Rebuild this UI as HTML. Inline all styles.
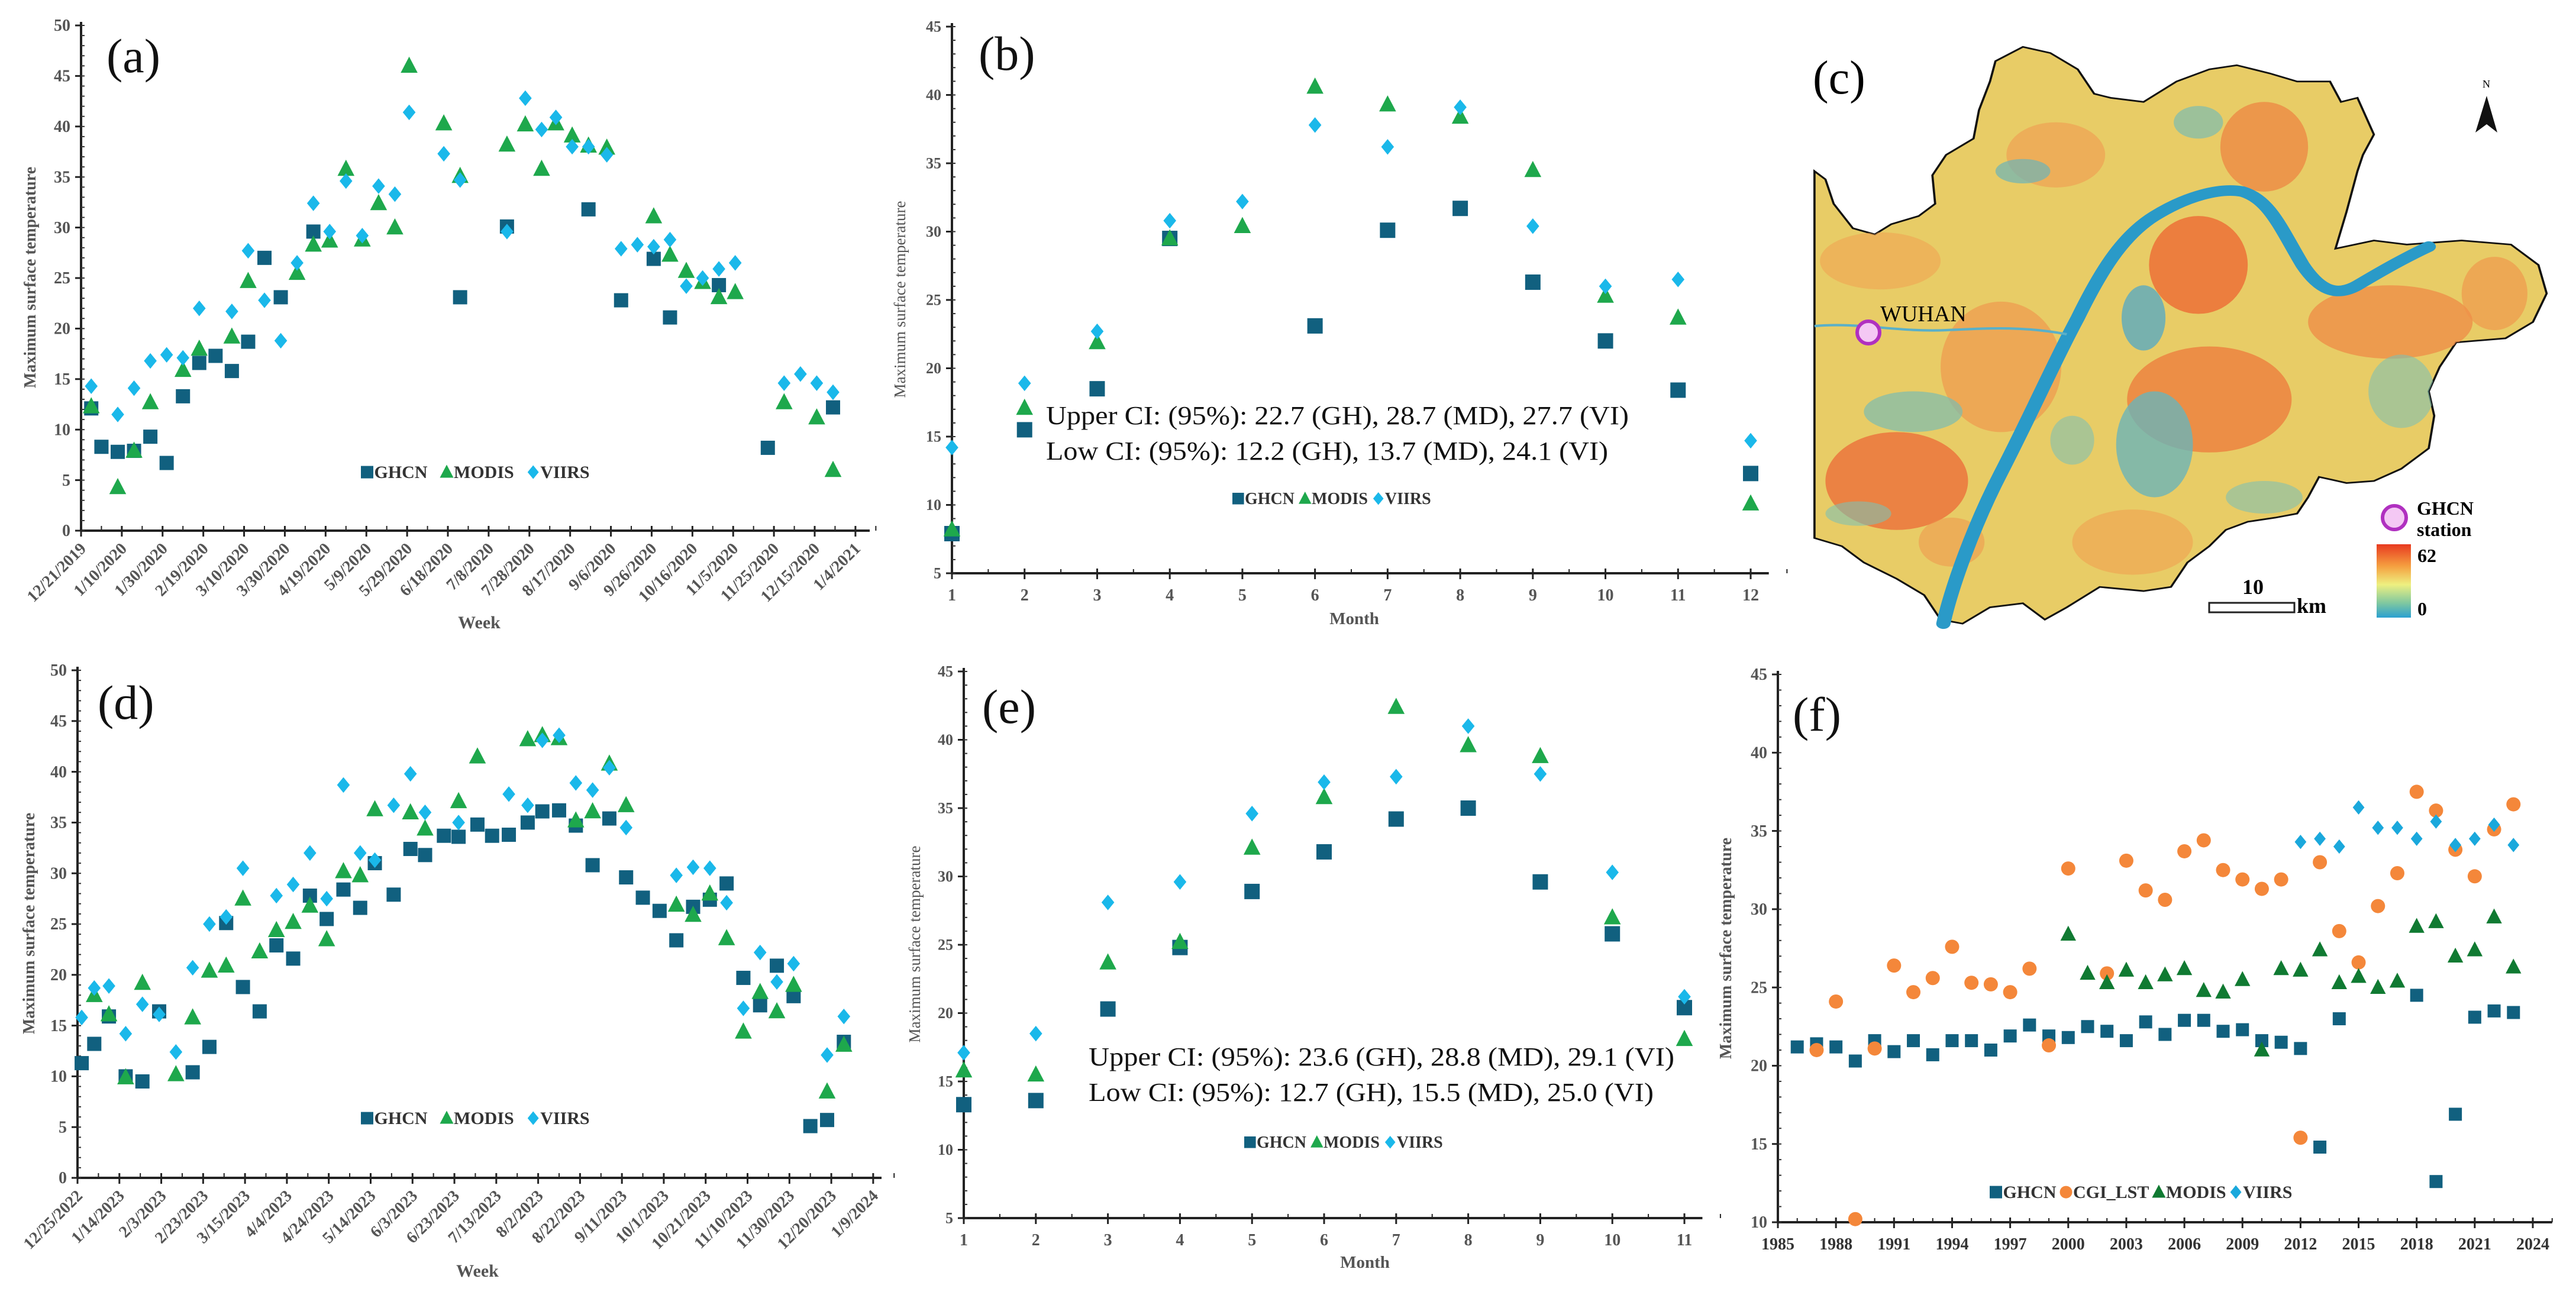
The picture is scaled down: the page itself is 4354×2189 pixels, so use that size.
<!DOCTYPE html>
<html><head><meta charset="utf-8"><style>
html,body{margin:0;padding:0;background:#fff;}
svg{display:block;font-family:"Liberation Serif",serif;}
</style></head><body>
<svg id="fig" width="4354" height="2189" viewBox="0 0 4354 2189" xmlns="http://www.w3.org/2000/svg">
<g id="mapc">
 <defs>
  <linearGradient id="cbar" x1="0" y1="0" x2="0" y2="1">
   <stop offset="0" stop-color="#e83a20"/><stop offset="0.3" stop-color="#f5a040"/><stop offset="0.55" stop-color="#eef080"/><stop offset="0.8" stop-color="#80c8a0"/><stop offset="1" stop-color="#2aa0d0"/>
  </linearGradient>
  <clipPath id="mapclip"><path id="outlineclip" d=""/></clipPath>
 </defs>
 <g transform="translate(2900,0) scale(0.927,0.689)">
  <path id="mapoutline" fill="#e8cc66" stroke="#111" stroke-width="4" d="M180,420 L200,440 215,500 250,560 290,575 320,550 370,530 400,500 395,430 420,380 470,340 480,270 500,200 510,150 560,115 610,130 660,170 690,230 720,240 780,250 840,200 900,170 950,160 1010,180 1060,200 1120,200 1140,250 1170,240 1200,330 1180,380 1170,420 1150,520 1130,610 1200,590 1260,600 1360,590 1450,600 1500,650 1515,720 1490,790 1440,830 1350,840 1320,900 1300,960 1310,1020 1300,1100 1250,1150 1200,1180 1150,1185 1100,1170 1080,1220 1060,1260 1020,1270 970,1280 930,1300 900,1340 860,1380 830,1440 780,1450 700,1440 640,1490 600,1520 560,1480 500,1490 450,1530 410,1520 380,1460 330,1420 270,1380 230,1340 180,1320 Z"/>
  <g clip-path="url(#mapclip)">
   <ellipse cx="880" cy="650" rx="90" ry="120" fill="#ec6a34" opacity="0.8"/>
   <ellipse cx="900" cy="980" rx="150" ry="130" fill="#ee7a3c" opacity="0.75"/>
   <ellipse cx="330" cy="1180" rx="130" ry="120" fill="#ec6234" opacity="0.7"/>
   <ellipse cx="1000" cy="360" rx="80" ry="110" fill="#ee8040" opacity="0.7"/>
   <ellipse cx="1230" cy="790" rx="150" ry="90" fill="#f08644" opacity="0.7"/>
   <ellipse cx="520" cy="900" rx="110" ry="160" fill="#f0904a" opacity="0.6"/>
   <ellipse cx="620" cy="380" rx="90" ry="80" fill="#f09a50" opacity="0.6"/>
   <ellipse cx="760" cy="1330" rx="110" ry="80" fill="#f0a050" opacity="0.6"/>
   <ellipse cx="300" cy="640" rx="110" ry="70" fill="#f0a050" opacity="0.55"/>
   <ellipse cx="1420" cy="720" rx="60" ry="90" fill="#f09048" opacity="0.6"/>
   <ellipse cx="430" cy="1330" rx="60" ry="60" fill="#f0904a" opacity="0.5"/>
   <ellipse cx="800" cy="1090" rx="70" ry="130" fill="#6cb4b8" opacity="0.8"/>
   <ellipse cx="780" cy="780" rx="40" ry="80" fill="#5aaac0" opacity="0.8"/>
   <ellipse cx="360" cy="1010" rx="90" ry="50" fill="#7cbcb0" opacity="0.7"/>
   <ellipse cx="560" cy="420" rx="50" ry="30" fill="#6cb4b8" opacity="0.7"/>
   <ellipse cx="880" cy="300" rx="45" ry="40" fill="#7cbcb0" opacity="0.7"/>
   <ellipse cx="1250" cy="960" rx="60" ry="90" fill="#80c0b0" opacity="0.6"/>
   <ellipse cx="650" cy="1080" rx="40" ry="60" fill="#80c0b0" opacity="0.6"/>
   <ellipse cx="1000" cy="1220" rx="70" ry="40" fill="#80c0b0" opacity="0.6"/>
   <ellipse cx="260" cy="1260" rx="60" ry="30" fill="#80c0b0" opacity="0.6"/>
  </g>
  <path fill="none" stroke="#2a9ac8" stroke-width="26" stroke-linecap="round" d="M415,1530 C430,1440 470,1290 520,1160 C570,1030 620,880 660,780 C700,670 740,580 800,530 C860,480 920,460 960,470 C1010,490 1030,560 1070,650 C1100,710 1130,730 1170,700 C1220,660 1260,630 1300,605"/>
  <path fill="none" stroke="#5ab0c8" stroke-width="6" d="M180,800 C260,790 330,815 420,810 C500,805 560,800 640,820"/>
 </g>
 <text x="3064" y="158" font-size="80">(c)</text>
 <text x="4196" y="148" font-size="18">N</text>
 <polygon points="4203,162 4184,224 4203,210 4221,224" fill="#111"/>
 <text x="3178" y="543" font-size="38">WUHAN</text>
 <circle cx="3158" cy="562" r="19" fill="#f4c8f4" stroke="#b030c0" stroke-width="6"/>
 <circle cx="4047" cy="875" r="20" fill="#f4c8f4" stroke="#b030c0" stroke-width="6"/>
 <text x="4085" y="870" font-size="32" font-weight="bold">GHCN</text>
 <text x="4085" y="906" font-size="32" font-weight="bold">station</text>
 <rect x="4017" y="920" width="58" height="124" fill="url(#cbar)"/>
 <text x="4086" y="950" font-size="32" font-weight="bold">62</text>
 <text x="4086" y="1040" font-size="32" font-weight="bold">0</text>
 <rect x="3734" y="1019" width="144" height="16" fill="#fff" stroke="#222" stroke-width="3"/>
 <text x="3790" y="1004" font-size="36" font-weight="bold">10</text>
 <text x="3882" y="1036" font-size="36" font-weight="bold">km</text>
</g>
</svg>
<script>
// ---------- data ----------
const aTicks = ["12/21/2019","1/10/2020","1/30/2020","2/19/2020","3/10/2020","3/30/2020","4/19/2020","5/9/2020","5/29/2020","6/18/2020","7/8/2020","7/28/2020","8/17/2020","9/6/2020","9/26/2020","10/16/2020","11/5/2020","11/25/2020","12/15/2020","1/4/2021"];
const aGhcnDay = [5,10,18,26,34,42,50,58,66,74,82,90,98,114,186,209,249,265,281,289,313,337,369];
const aGhcnVal = [12.1,8.3,7.8,7.9,9.3,6.7,13.3,16.6,17.3,15.8,18.7,27,23.1,29.6,23.1,30.1,31.8,22.8,26.9,21.1,24.3,8.2,12.2];
const aModisDay = [5,18,26,34,50,58,74,82,106,114,122,130,138,146,154,161,178,186,209,218,226,233,241,249,258,281,289,297,305,313,321,345,361,369];
const aModisVal = [12.3,4.3,7.9,12.7,15.9,18,19.2,24.7,25.5,28.3,28.7,35.8,28.8,32.4,30,46,40.3,35.1,38.2,40.2,35.8,40.3,39.1,38.1,37.9,31.1,27.3,25.7,24.6,23.1,23.6,12.7,11.2,6];
const aViirsDay = [5,18,26,34,42,50,58,74,82,90,98,106,114,122,130,138,146,154,161,178,186,209,218,226,233,241,249,258,265,273,281,289,297,305,313,321,345,353,361,369];
const aViirsVal = [14.3,11.5,14.1,16.8,17.4,17.1,22,21.7,27.7,22.8,18.8,26.5,32.4,29.6,34.6,29.2,34.1,33.3,41.4,37.3,34.7,29.6,42.8,39.7,40.9,38,38,37.2,27.9,28.3,28.1,28.8,24.2,25,25.9,26.5,14.6,15.5,14.6,13.7];

const bMonths = [1,2,3,4,5,6,7,8,9,10,11,12];
const bGhcn = [7.9,15.5,18.5,29.5,null,23.1,30.1,31.7,26.3,22,18.4,12.3];
const bModis = [8.2,17.1,21.9,29.5,30.4,40.6,39.3,38.4,34.5,25.3,23.7,10.1];
const bViirs = [14.2,18.9,22.7,30.8,32.2,37.8,36.2,39.1,30.4,26,26.5,14.7];
const bYTicks = [5,10,15,20,25,30,35,40,45];

const dTicks = ["12/25/2022","1/14/2023","2/3/2023","2/23/2023","3/15/2023","4/4/2023","4/24/2023","5/14/2023","6/3/2023","6/23/2023","7/13/2023","8/2/2023","8/22/2023","9/11/2023","10/1/2023","10/21/2023","11/10/2023","11/30/2023","12/20/2023","1/9/2024"];
const dGhcnDay = [2,8,15,23,31,39,55,63,71,79,87,95,103,111,119,127,135,142,151,159,166,175,182,191,198,206,215,222,230,238,246,254,262,270,278,286,294,302,310,318,326,334,342,350,358,366];
const dGhcnVal = [11.3,13.2,15.9,10,9.5,16.4,10.4,12.9,25.1,18.8,16.4,22.9,21.6,27.8,25.5,28.4,26.6,31,27.9,32.4,31.8,33.7,33.6,34.8,33.7,33.8,35,36.1,36.2,34.7,30.8,35.4,29.6,27.6,26.3,23.4,26.7,27.4,29,19.7,17,20.9,17.9,5.1,5.7,13.4];
const dModisDay = [8,15,23,31,47,55,63,71,79,87,95,103,111,119,127,135,142,159,166,182,191,215,222,230,238,246,254,262,286,294,302,310,318,326,334,342,358,366];
const dModisVal = [18,16.1,9.9,19.2,10.2,15.8,20.4,20.9,27.5,22.3,24.4,25.2,26.8,23.5,30.2,29.8,36.3,36,34.4,37.1,41.5,43.2,43.6,43.3,35.2,36.1,40.8,36.7,26.9,25.9,28,23.6,14.4,18.3,16.4,19,8.5,13.1];
const dViirsDay = [2,8,15,23,31,39,47,55,63,71,79,95,103,111,119,127,135,142,151,159,166,182,206,215,222,230,238,246,254,262,286,294,302,310,318,326,334,342,358,366];
const dViirsVal = [15.8,18.7,18.9,14.2,17.1,16.1,12.4,20.7,25,25.7,30.5,27.8,28.9,32,27.5,38.7,32,31.3,36.7,39.8,36,35,37.8,36.7,43.1,43.6,38.9,38.2,40.4,34.5,29.8,30.6,30.5,27.1,16.7,22.2,19.3,21.1,12.1,15.9];

const eMonths = [1,2,3,4,5,6,7,8,9,10,11];
const eGhcn = [13.3,13.6,20.3,24.8,28.9,31.8,34.2,35,29.6,25.8,20.4];
const eModis = [15.8,15.5,23.7,25.2,32.1,35.8,42.4,39.6,38.8,27,18.1];
const eViirs = [17.1,18.5,28.1,29.6,34.6,36.9,37.3,41,37.5,30.3,21.2];

const fYearTicks = [1985,1988,1991,1994,1997,2000,2003,2006,2009,2012,2015,2018,2021,2024];
const fYTicks = [10,15,20,25,30,35,40,45];
const fGhcnYear = [1986,1987,1988,1989,1990,1991,1992,1993,1994,1995,1996,1997,1998,1999,2000,2001,2002,2003,2004,2005,2006,2007,2008,2009,2010,2011,2012,2013,2014,2018,2019,2020,2021,2022,2023];
const fGhcnVal = [21.2,21.4,21.2,20.3,21.6,20.9,21.6,20.7,21.6,21.6,21,21.9,22.6,21.9,21.8,22.5,22.2,21.6,22.8,22,22.9,22.9,22.2,22.3,21.6,21.5,21.1,14.8,23,24.5,12.6,16.9,23.1,23.5,23.4];
const fCgiYear = [1987,1988,1989,1990,1991,1992,1993,1994,1995,1996,1997,1998,1999,2000,2002,2003,2004,2005,2006,2007,2008,2009,2010,2011,2012,2013,2014,2015,2016,2017,2018,2019,2020,2021,2022,2023];
const fCgiVal = [21,24.1,10.2,21.1,26.4,24.7,25.6,27.6,25.3,25.2,24.7,26.2,21.3,32.6,25.9,33.1,31.2,30.6,33.7,34.4,32.5,31.9,31.3,31.9,15.4,33,28.6,26.6,30.2,32.3,37.5,36.3,33.8,32.1,35.1,36.7];
const fModisYear = [2000,2001,2002,2003,2004,2005,2006,2007,2008,2009,2010,2011,2012,2013,2014,2015,2016,2017,2018,2019,2020,2021,2022,2023];
const fModisVal = [28.4,25.9,25.3,26.1,25.3,25.8,26.2,24.8,24.7,25.5,21,26.2,26.1,27.4,25.3,25.7,25,25.4,28.9,29.2,27,27.4,29.5,26.3];
const fViirsYear = [2012,2013,2014,2015,2016,2017,2018,2019,2020,2021,2022,2023];
const fViirsVal = [34.3,34.5,34,36.5,35.2,35.2,34.5,35.6,34.1,34.5,35.4,34.1];

// ---------- drawing ----------
const NS = "http://www.w3.org/2000/svg";
const svg = document.getElementById('fig');
function mk(tag, attrs, parent, txt){
  const el = document.createElementNS(NS, tag);
  for (const k in attrs) el.setAttribute(k, attrs[k]);
  if (txt !== undefined) el.textContent = txt;
  (parent || svg).appendChild(el);
  return el;
}
const C = {ghcn:"#11607f", modis:"#1ea84c", viirs:"#1ab8ea", cgi:"#f4873a", modisDark:"#107a32"};

function scale(d0,d1,p0,p1){ return v => p0 + (v-d0)/(d1-d0)*(p1-p0); }

function marker(g, type, cx, cy, s, color){
  let el;
  if (type==='sq') el = mk('rect',{x:cx-s/2,y:cy-s/2,width:s,height:s,fill:color},g);
  else if (type==='tri') el = mk('polygon',{points:`${cx},${cy-s*0.6} ${cx-s*0.55},${cy+s*0.45} ${cx+s*0.55},${cy+s*0.45}`,fill:color},g);
  else if (type==='dia') el = mk('polygon',{points:`${cx},${cy-s*0.55} ${cx+s*0.45},${cy} ${cx},${cy+s*0.55} ${cx-s*0.45},${cy}`,fill:color},g);
  else el = mk('circle',{cx:cx,cy:cy,r:s/2,fill:color},g);
  return el;
}

function series(g, name, type, xs, ys, X, Y, s, color){
  const sg = mk('g',{},g);
  
  
  xs.forEach((x,i)=>{
    if (ys[i]===null || ys[i]===undefined) return;
    const m = marker(sg, type, X(x), Y(ys[i]), s, color);
    
    
  });
}

function axes(g, o){
  mk('line',{x1:o.yAxisX,y1:o.yTop-6,x2:o.yAxisX,y2:o.xAxisY,stroke:"#222","stroke-width":4},g);
  mk('line',{x1:o.xStart,y1:o.xAxisY,x2:o.xEnd,y2:o.xAxisY,stroke:"#222","stroke-width":4},g);
}

function legend(g, x, y, items, fs, gap){
  const lg = mk('g',{},g);
  
  
  let cx = x;
  items.forEach(it=>{
    const e = mk('g',{},lg);
    
    
    marker(e, it.type, cx+fs*0.35, y-fs*0.33, fs*0.7, it.color);
    const t = mk('text',{x:cx+fs*0.75,y:y,"font-size":fs,"font-weight":"bold",fill:"#333"},e,it.label);
    cx += fs*0.75 + t.getComputedTextLength() + gap;
  });
}

function yTicks(g, vals, Y, ax, minorStep, ymin, ymax, fs){
  vals.forEach(v=>{
    const yy = Y(v);
    mk('line',{x1:ax-10,y1:yy,x2:ax,y2:yy,stroke:"#222","stroke-width":3},g);
    const t = mk('text',{x:ax-18,y:yy+fs*0.33,"font-size":fs,"text-anchor":"end",fill:"#555","font-weight":"bold"},g,String(v));
    
    
  });
  for (let v=ymin; v<=ymax+1e-9; v+=minorStep){
    mk('line',{x1:ax,y1:Y(v),x2:ax+6,y2:Y(v),stroke:"#333","stroke-width":2},g);
  }
}

function ytitle(g, x, y, txt, fs, bold){
  const t = mk('text',{x:x,y:y,"font-size":fs,"text-anchor":"middle",fill:"#555","font-weight":bold?"bold":"normal",transform:`rotate(-90 ${x} ${y})`},g,txt);
  
  
}
function xtitle(g, x, y, txt, fs){
  const t = mk('text',{x:x,y:y,"font-size":fs,"text-anchor":"middle",fill:"#555","font-weight":"bold"},g,txt);
  
  
}
function plabel(g, x, y, txt){
  const t = mk('text',{x:x,y:y,"font-size":82,fill:"#111"},g,txt);
  
  
}

function weekly(cfg){
  const g = mk('g',{});  
  const X = scale(0,cfg.dmax,cfg.px0,cfg.px1), Y = scale(0,50,cfg.py0,cfg.py1);
  axes(g,{xAxisY:cfg.py0,xStart:cfg.px0,xEnd:X(cfg.dmax),yAxisX:cfg.px0,yTop:cfg.py1});
  yTicks(g,[0,5,10,15,20,25,30,35,40,45,50],Y,cfg.px0,1,0,50,28);
  cfg.ticks.forEach((lab,i)=>{
    const xx = X(i*20);
    mk('line',{x1:xx,y1:cfg.py0-8,x2:xx,y2:cfg.py0+10,stroke:"#222","stroke-width":3},g);
    mk('line',{x1:X(i*20+10),y1:cfg.py0-8,x2:X(i*20+10),y2:cfg.py0,stroke:"#222","stroke-width":2},g);
    const t = mk('text',{x:xx+10,y:cfg.py0+32,"font-size":28,"font-weight":"bold",fill:"#555","text-anchor":"end",transform:`rotate(-45 ${xx+10} ${cfg.py0+32})`},g,lab);
    
    
  });
  series(g,'ghcn-series','sq',cfg.gd,cfg.gv,X,Y,24,C.ghcn);
  series(g,'modis-series','tri',cfg.md,cfg.mv,X,Y,26,C.modis);
  series(g,'viirs-series','dia',cfg.vd,cfg.vv,X,Y,24,C.viirs);
  ytitle(g,cfg.ytx,cfg.yty,"Maximum surface temperature",28,true);
  xtitle(g,cfg.xtx,cfg.xty,"Week",30);
  legend(g,cfg.lgx,cfg.lgy,[{label:"GHCN",type:"sq",color:C.ghcn},{label:"MODIS",type:"tri",color:C.modis},{label:"VIIRS",type:"dia",color:C.viirs}],30,22);
  plabel(g,cfg.plx,cfg.ply,cfg.plab);
}
weekly({name:'chart-a',dmax:387,px0:137,px1:1470,py0:897,py1:43,ticks:aTicks,gd:aGhcnDay,gv:aGhcnVal,md:aModisDay,mv:aModisVal,vd:aViirsDay,vv:aViirsVal,ytx:60,yty:469,xtx:810,xty:1062,lgx:610,lgy:808,plx:180,ply:122,plab:"(a)"});
weekly({name:'chart-d',dmax:384,px0:131,px1:1490,py0:1991,py1:1133,ticks:dTicks,gd:dGhcnDay,gv:dGhcnVal,md:dModisDay,mv:dModisVal,vd:dViirsDay,vv:dViirsVal,ytx:58,yty:1561,xtx:807,xty:2158,lgx:610,lgy:1900,plx:165,ply:1215,plab:"(d)"});

function monthly(cfg){
  const g = mk('g',{});  
  const X = scale(1,cfg.mmax,cfg.px0,cfg.px1), Y = scale(5,45,cfg.py0,cfg.py1);
  axes(g,{xAxisY:cfg.py0,xStart:cfg.px0,xEnd:X(cfg.mmax+0.25),yAxisX:cfg.px0,yTop:cfg.py1});
  yTicks(g,bYTicks,Y,cfg.px0,1,5,45,26);
  cfg.months.forEach(m=>{
    const xx = X(m);
    mk('line',{x1:xx,y1:cfg.py0-8,x2:xx,y2:cfg.py0+10,stroke:"#222","stroke-width":3},g);
    mk('line',{x1:X(m+0.5),y1:cfg.py0-7,x2:X(m+0.5),y2:cfg.py0,stroke:"#222","stroke-width":2},g);
    const t = mk('text',{x:xx,y:cfg.py0+46,"font-size":28,"font-weight":"bold",fill:"#555","text-anchor":"middle"},g,String(m));
    
    
  });
  series(g,'ghcn-series','sq',cfg.months,cfg.g,X,Y,26,C.ghcn);
  series(g,'modis-series','tri',cfg.months,cfg.m,X,Y,26,C.modis);
  series(g,'viirs-series','dia',cfg.months,cfg.v,X,Y,24,C.viirs);
  ytitle(g,cfg.ytx,cfg.yty,"Maximum surface temperature",27,false);
  xtitle(g,cfg.xtx,cfg.xty,"Month",29);
  legend(g,cfg.lgx,cfg.lgy,[{label:"GHCN",type:"sq",color:C.ghcn},{label:"MODIS",type:"tri",color:C.modis},{label:"VIIRS",type:"dia",color:C.viirs}],28,8);
  const t1 = mk('text',{x:cfg.cix,y:cfg.ciy,"font-size":44,fill:"#111",textLength:cfg.ciw,lengthAdjust:"spacingAndGlyphs"},g,cfg.ci1);
   
  const t2 = mk('text',{x:cfg.cix,y:cfg.ciy+60,"font-size":44,fill:"#111",textLength:cfg.ciw2,lengthAdjust:"spacingAndGlyphs"},g,cfg.ci2);
   
  plabel(g,cfg.plx,cfg.ply,cfg.plab);
}
monthly({name:'chart-b',months:bMonths,mmax:12,px0:1609,px1:2959,py0:969,py1:45,g:bGhcn,m:bModis,v:bViirs,ytx:1530,yty:506,xtx:2289,xty:1055,lgx:2083,lgy:852,cix:1768,ciy:717,ciw:985,ciw2:950,ci1:"Upper CI: (95%): 22.7 (GH), 28.7 (MD), 27.7 (VI)",ci2:"Low CI: (95%): 12.2 (GH), 13.7 (MD), 24.1 (VI)",plx:1654,ply:118,plab:"(b)"});
monthly({name:'chart-e',months:eMonths,mmax:11,px0:1629,px1:2847,py0:2059,py1:1135,g:eGhcn,m:eModis,v:eViirs,ytx:1555,yty:1596,xtx:2307,xty:2143,lgx:2103,lgy:1940,cix:1840,ciy:1801,ciw:990,ciw2:955,ci1:"Upper CI: (95%): 23.6 (GH), 28.8 (MD), 29.1 (VI)",ci2:"Low CI: (95%): 12.7 (GH), 15.5 (MD), 25.0 (VI)",plx:1660,ply:1222,plab:"(e)"});

(function(){
  const g = mk('g',{});  
  const px0=3005, py0=2066, py1=1140;
  const X = scale(1985,2024,px0,4281), Y = scale(10,45,py0,py1);
  axes(g,{xAxisY:py0,xStart:px0,xEnd:X(2025),yAxisX:px0,yTop:py1});
  yTicks(g,fYTicks,Y,px0,1,10,45,28);
  for (let yr=1985; yr<=2025; yr++){
    mk('line',{x1:X(yr),y1:py0-7,x2:X(yr),y2:py0,stroke:"#222","stroke-width":2},g);
  }
  fYearTicks.forEach(yr=>{
    mk('line',{x1:X(yr),y1:py0-8,x2:X(yr),y2:py0+10,stroke:"#222","stroke-width":3},g);
    const t = mk('text',{x:X(yr),y:py0+46,"font-size":28,"font-weight":"bold",fill:"#333","text-anchor":"middle"},g,String(yr));
    
    
  });
  series(g,'ghcn-series','sq',fGhcnYear,fGhcnVal,X,Y,22,C.ghcn);
  series(g,'cgi-lst-series','circ',fCgiYear,fCgiVal,X,Y,24,C.cgi);
  series(g,'modis-series','tri',fModisYear,fModisVal,X,Y,24,C.modisDark);
  series(g,'viirs-series','dia',fViirsYear,fViirsVal,X,Y,22,"#1aa8dc");
  ytitle(g,2926,1603,"Maximum surface temperature",28,true);
  legend(g,3363,2025,[{label:"GHCN",type:"sq",color:C.ghcn},{label:"CGI_LST",type:"circ",color:C.cgi},{label:"MODIS",type:"tri",color:C.modisDark},{label:"VIIRS",type:"dia",color:"#1aa8dc"}],30,6);
  plabel(g,3030,1235,"(f)");
})();

document.getElementById('outlineclip').setAttribute('d', document.getElementById('mapoutline').getAttribute('d'));
</script>
</body></html>
